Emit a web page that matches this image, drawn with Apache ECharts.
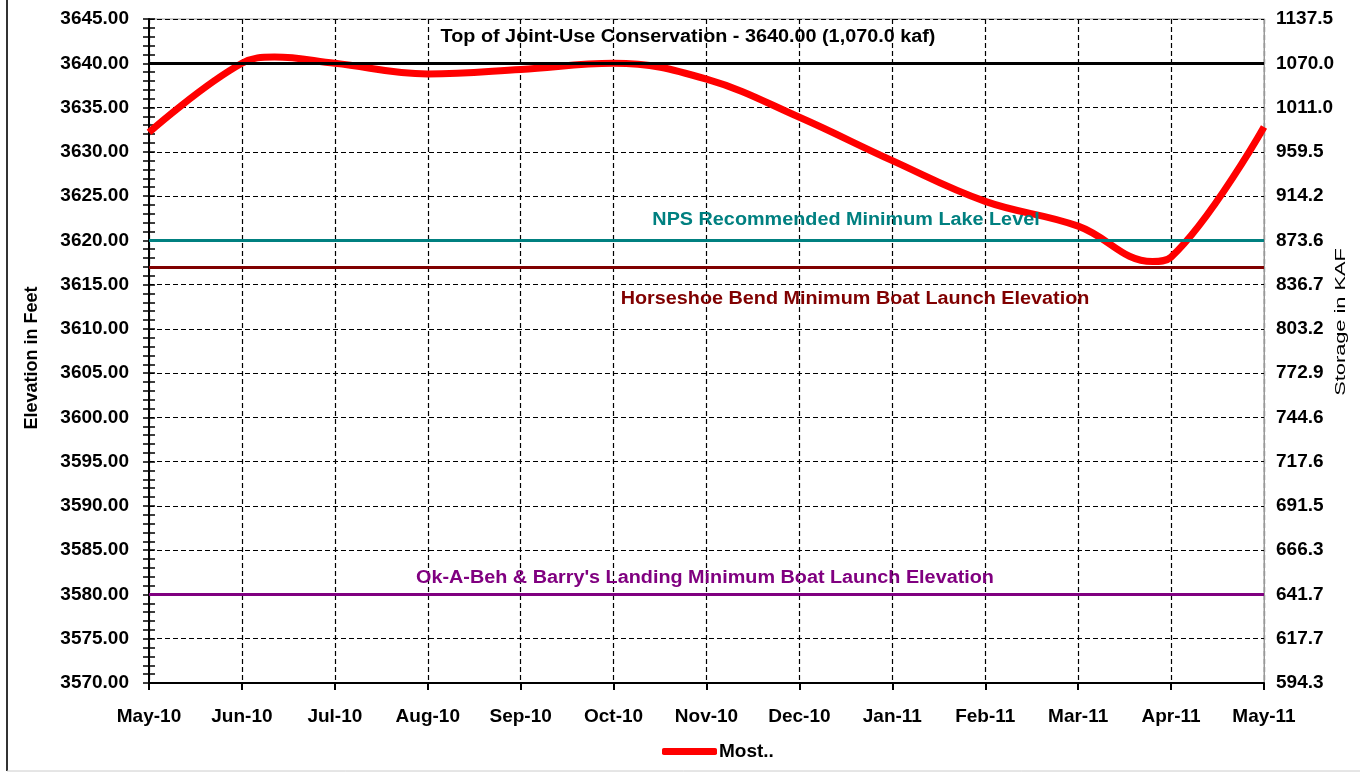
<!DOCTYPE html>
<html>
<head>
<meta charset="utf-8">
<script src="https://cdn.jsdelivr.net/npm/echarts@6/dist/echarts.min.js"></script>
<style>
html,body{margin:0;padding:0;background:#fff;}
#chart{width:1360px;height:772px;}
</style>
</head>
<body>
<div id="chart"></div>
<script>
const months = ['May-10','Jun-10','Jul-10','Aug-10','Sep-10','Oct-10','Nov-10','Dec-10','Jan-11','Feb-11','Mar-11','Apr-11','May-11'];
// position in months from May-10, and elevation (ft)
const mostX = [0, 1, 1.35, 2, 3, 4, 5, 6, 7, 8, 9, 10, 10.8, 11, 12];
const mostY = [3632.2, 3640.0, 3640.7, 3640.0, 3638.8, 3639.3, 3640.0, 3638.2, 3633.9, 3629.0, 3624.4, 3621.6, 3617.6, 3618.1, 3632.8];
const elevTicks = [3570,3575,3580,3585,3590,3595,3600,3605,3610,3615,3620,3625,3630,3635,3640,3645];
const storageLabels = ['594.3','617.7','641.7','666.3','691.5','717.6','744.6','772.9','803.2','836.7','873.6','914.2','959.5','1011.0','1070.0','1137.5'];
const refValues = [3640, 3620, 3617, 3580];
const refLabels = ['Top of Joint-Use Conservation - 3640.00 (1,070.0 kaf)', 'NPS Recommended Minimum Lake Level', 'Horseshoe Bend Minimum Boat Launch Elevation', "Ok-A-Beh & Barry's Landing Minimum Boat Launch Elevation"];
const refColors = ['#000000', '#008080', '#800000', '#800080'];
const seriesName = 'Most..';
const leftTitle = 'Elevation in Feet';
const rightTitle = 'Storage in KAF';

const FONT = "'Liberation Sans', Arial, sans-serif";
const chart = echarts.init(document.getElementById('chart'), null, {renderer: 'canvas'});

const yBase = {
  type: 'value', min: elevTicks[0], max: elevTicks[elevTicks.length - 1], interval: 5
};
const mostData = mostX.map((x, i) => [x, mostY[i]]);

const option = {
  animation: false,
  backgroundColor: '#fff',
  grid: {left: 149, right: 96, top: 19, bottom: 89, show: true, borderColor: '#999', borderWidth: 1, containLabel: false},
  legend: {
    data: [{name: seriesName, icon: 'roundRect'}], top: 737, left: 657, itemWidth: 55, itemHeight: 7, itemGap: 4,
    textStyle: {fontFamily: FONT, fontWeight: 'bold', fontSize: 19, color: '#000', padding: [0, 0, 0, -3]}
  },
  xAxis: {
    type: 'value', min: 0, max: months.length - 1, interval: 1,
    axisLine: {lineStyle: {color: '#000', width: 2}},
    axisTick: {show: true, length: 7, lineStyle: {color: '#000', width: 2}},
    axisLabel: {fontFamily: FONT, fontWeight: 'bold', fontSize: 19, color: '#000', margin: 24,
      showMinLabel: true, showMaxLabel: true, formatter: v => months[Math.round(v)] || ''},
    splitLine: {show: true, lineStyle: {color: '#000', type: [5, 3], width: 1.2}}
  },
  yAxis: [
    Object.assign({}, yBase, {
      position: 'left',
      axisLine: {show: true, lineStyle: {color: '#000', width: 2}},
      axisTick: {show: true, length: 6, lineStyle: {color: '#000', width: 1.5}},
      minorTick: {show: true, splitNumber: 5, length: 6, lineStyle: {color: '#000', width: 1.5}},
      axisLabel: {fontFamily: FONT, fontWeight: 'bold', fontSize: 19, color: '#000', margin: 20, formatter: v => v.toFixed(2)},
      splitLine: {show: true, lineStyle: {color: '#000', type: [5, 3], width: 1.2}}
    }),
    Object.assign({}, yBase, {
      position: 'left', offset: 0,
      axisLine: {show: false},
      axisTick: {show: true, inside: true, length: 6, lineStyle: {color: '#000', width: 1.5}},
      minorTick: {show: true, splitNumber: 5, length: 6, lineStyle: {color: '#000', width: 1.5}},
      axisLabel: {show: false},
      splitLine: {show: false}
    }),
    Object.assign({}, yBase, {
      position: 'right',
      axisLine: {show: true, lineStyle: {color: '#999', width: 1}},
      axisTick: {show: false},
      axisLabel: {fontFamily: FONT, fontWeight: 'bold', fontSize: 19, color: '#000', margin: 12,
        formatter: v => storageLabels[elevTicks.indexOf(Math.round(v))] || ''},
      splitLine: {show: false}
    })
  ],
  series: [
    {
      name: seriesName, type: 'line', data: mostData, yAxisIndex: 0,
      smooth: 0.4, symbol: 'none', showSymbol: false, z: 2,
      lineStyle: {color: '#ff0000', width: 7}, itemStyle: {color: '#ff0000'}
    },
    {
      name: 'refs', type: 'line', data: [], yAxisIndex: 0, z: 5, silent: true,
      markLine: {
        silent: true, symbol: 'none', animation: false,
        label: {show: false},
        data: refValues.map((v, i) => ({yAxis: v, lineStyle: {color: refColors[i], width: 3, type: 'solid'}}))
      }
    }
  ]
};
chart.setOption(option);

// reference line captions
const capX = [688, 846, 855, 705];
const capDy = [-26, -20, 32, -16];
const graphics = refLabels.map((t, i) => {
  const y = chart.convertToPixel({yAxisIndex: 0}, refValues[i]) + capDy[i];
  return {
    type: 'text', x: capX[i], y: y, z: 10, scaleX: 1.1, scaleY: 1,
    style: {text: t, fill: refColors[i], font: 'bold 18px ' + FONT, textAlign: 'center', textVerticalAlign: 'middle'}
  };
});
graphics.push({
  type: 'text', x: 32, y: 358, rotation: Math.PI / 2, z: 10,
  style: {text: leftTitle, fill: '#000', font: 'bold 18px ' + FONT, textAlign: 'center', textVerticalAlign: 'middle'}
});
graphics.push({
  type: 'text', x: 1341, y: 322, rotation: Math.PI / 2, scaleX: 1.45, z: 10,
  style: {text: rightTitle, fill: '#000', font: '15px ' + FONT, textAlign: 'center', textVerticalAlign: 'middle'}
});
graphics.push({type: 'line', shape: {x1: 7, y1: 0, x2: 7, y2: 771}, style: {stroke: '#333', lineWidth: 2}});
graphics.push({type: 'line', shape: {x1: 7, y1: 771, x2: 1360, y2: 771}, style: {stroke: '#ccc', lineWidth: 1}});
chart.setOption({graphic: graphics});
</script>
</body>
</html>
